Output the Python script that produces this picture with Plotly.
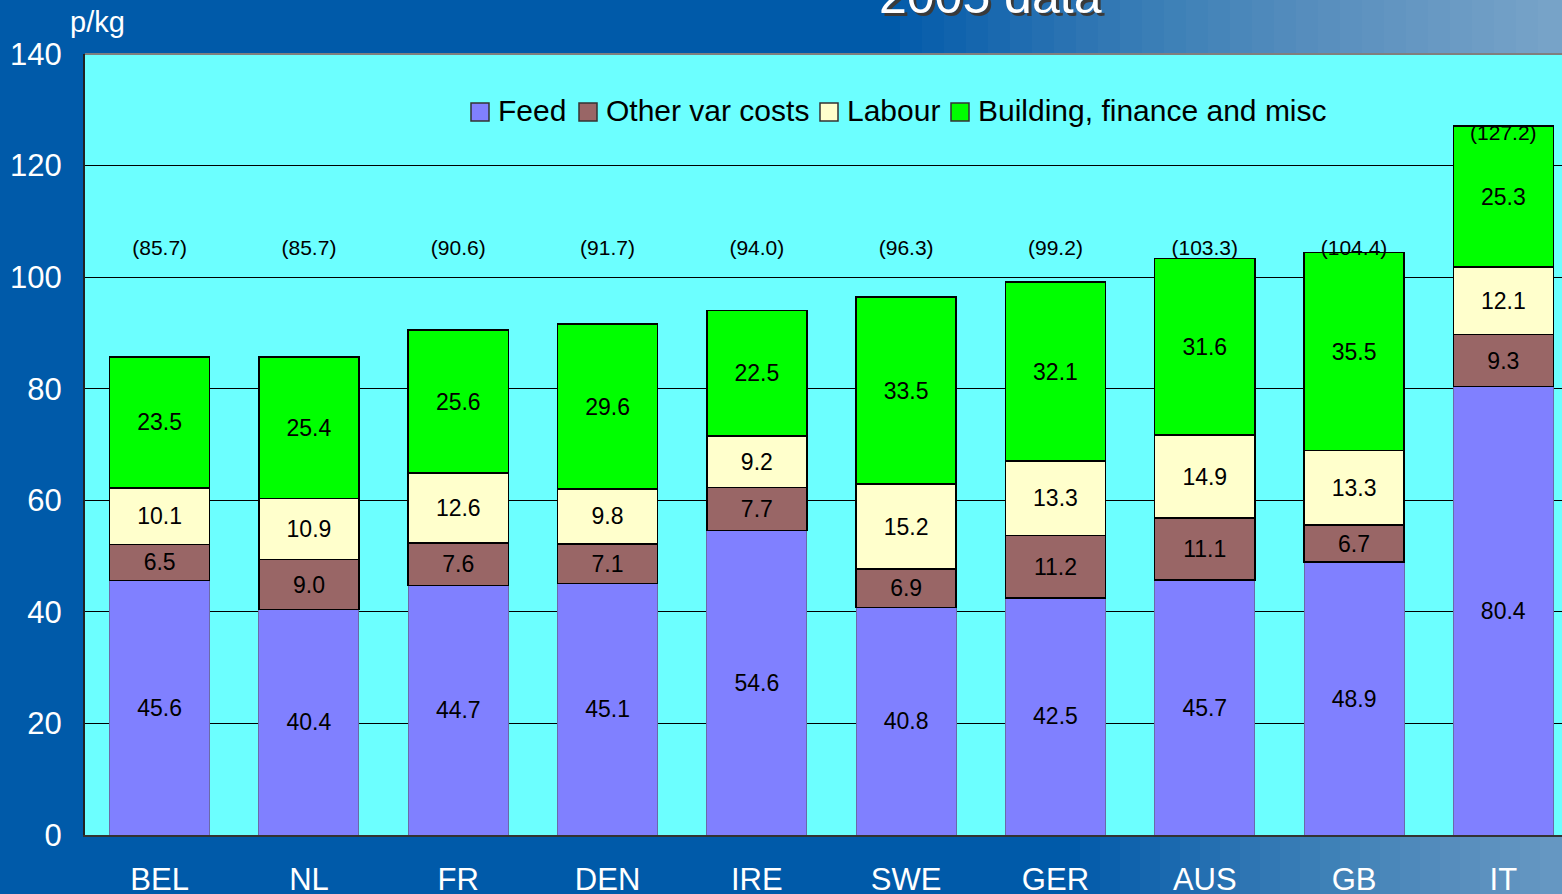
import plotly.graph_objects as go

countries = ["BEL", "NL", "FR", "DEN", "IRE", "SWE", "GER", "AUS", "GB", "IT"]
feed = [45.6, 40.4, 44.7, 45.1, 54.6, 40.8, 42.5, 45.7, 48.9, 80.4]
other_var = [6.5, 9.0, 7.6, 7.1, 7.7, 6.9, 11.2, 11.1, 6.7, 9.3]
labour = [10.1, 10.9, 12.6, 9.8, 9.2, 15.2, 13.3, 14.9, 13.3, 12.1]
building = [23.5, 25.4, 25.6, 29.6, 22.5, 33.5, 32.1, 31.6, 35.5, 25.3]
totals = [85.7, 85.7, 90.6, 91.7, 94.0, 96.3, 99.2, 103.3, 104.4, 127.2]
y_ticks = [0, 20, 40, 60, 80, 100, 120, 140]

W, H = 1562, 894
ML, MR, MT, MB = 85, 0, 54, 59
PW, PH = W - ML - MR, H - MT - MB

FONT = "Liberation Sans, Arial, sans-serif"


def px_x(p):
    return (p - ML) / PW


def px_y(p):
    return (H - MB - p) / PH


series = [
    ("Feed", feed, "#8080ff", "#6a6aa8", 1),
    ("Other var costs", other_var, "#996666", "#000000", 1.5),
    ("Labour", labour, "#ffffcc", "#000000", 1.5),
    ("Building, finance and misc", building, "#00ff00", "#000000", 1.5),
]

fig = go.Figure()
for name, vals, col, lc, lw in series:
    fig.add_trace(go.Bar(
        name=name, x=countries, y=vals, width=0.67,
        marker=dict(color=col, line=dict(color=lc, width=lw)),
        text=[f"{v:.1f}" for v in vals], textposition="inside",
        insidetextanchor="middle", textangle=0,
        textfont=dict(family=FONT, size=23, color="black"),
        constraintext="none", cliponaxis=False, showlegend=False,
    ))

label_level = 105.0
label_y = [max(label_level, t - 1.6) for t in totals]
fig.add_trace(go.Scatter(
    x=countries, y=label_y, mode="text",
    text=[f"({t:.1f})" for t in totals],
    textfont=dict(family=FONT, size=21, color="black"),
    showlegend=False, hoverinfo="skip", cliponaxis=False,
))

cat_px = 149.3
x_span = PW / cat_px

shapes = []
# fake background gradient (top and bottom strips on the right)
for i in range(30):
    x0 = 900 + i * 22
    shapes.append(dict(type="rect", xref="paper", yref="paper",
                       x0=px_x(x0), x1=1.01, y0=1.0, y1=px_y(-5),
                       fillcolor="white", opacity=0.022, line=dict(width=0), layer="below"))
for i in range(24):
    x0 = 1080 + i * 20
    shapes.append(dict(type="rect", xref="paper", yref="paper",
                       x0=px_x(x0), x1=1.01, y0=px_y(H + 5), y1=0.0,
                       fillcolor="white", opacity=0.022, line=dict(width=0), layer="below"))
# top border of plot area
shapes.append(dict(type="line", xref="paper", yref="paper", x0=0, x1=1, y0=1, y1=1,
                   line=dict(color="#7f7f7f", width=2)))

# legend (drawn manually to match the reference's swatches)
legend_sq = [471, 579, 820, 951]
annotations = []
for (name, vals, col, lc, lw), sx in zip(series, legend_sq):
    shapes.append(dict(type="rect", xref="paper", yref="paper",
                       x0=px_x(sx), x1=px_x(sx + 18), y0=px_y(121), y1=px_y(103),
                       fillcolor=col, line=dict(color="#333333", width=1.5)))
    annotations.append(dict(text=name, xref="paper", yref="paper", x=px_x(sx + 25),
                            y=px_y(111), xanchor="left", yanchor="middle", showarrow=False,
                            font=dict(family=FONT, size=30, color="black")))

annotations += [
    dict(text="p/kg", xref="paper", yref="paper", x=px_x(68),
         y=px_y(22), xanchor="left", yanchor="middle", showarrow=False,
         font=dict(family=FONT, size=29, color="white")),
    dict(text="2005 data", xref="paper", yref="paper", x=px_x(993),
         y=px_y(-1), xanchor="center", yanchor="middle", showarrow=False,
         font=dict(family=FONT, size=50, color="#3a3a3a")),
    dict(text="2005 data", xref="paper", yref="paper", x=px_x(990),
         y=px_y(-4), xanchor="center", yanchor="middle", showarrow=False,
         font=dict(family=FONT, size=50, color="white")),
]

fig.update_layout(
    width=W, height=H,
    margin=dict(l=ML, r=MR, t=MT, b=MB, pad=0, autoexpand=False),
    paper_bgcolor="#005aa9",
    plot_bgcolor="#6cffff",
    barmode="stack",
    font=dict(family=FONT, color="white"),
    shapes=shapes,
    annotations=annotations,
    showlegend=False,
    xaxis=dict(range=[-0.5, -0.5 + x_span], showgrid=False, zeroline=False,
               showline=True, linecolor="#333333", linewidth=2, automargin=False,
               ticks="", tickfont=dict(family=FONT, size=31, color="white"),
               ticklabelstandoff=16),
    yaxis=dict(range=[0, 140], tickvals=y_ticks, showgrid=True, gridcolor="black",
               gridwidth=1, zeroline=False, showline=True, linecolor="#222222",
               linewidth=2, ticks="inside", ticklen=9, tickcolor="black", automargin=False,
               tickfont=dict(family=FONT, size=31, color="white"),
               ticklabelstandoff=15),
)

fig.write_html("out.html", config={"displayModeBar": False},
               post_script="document.body.style.margin='0';")
